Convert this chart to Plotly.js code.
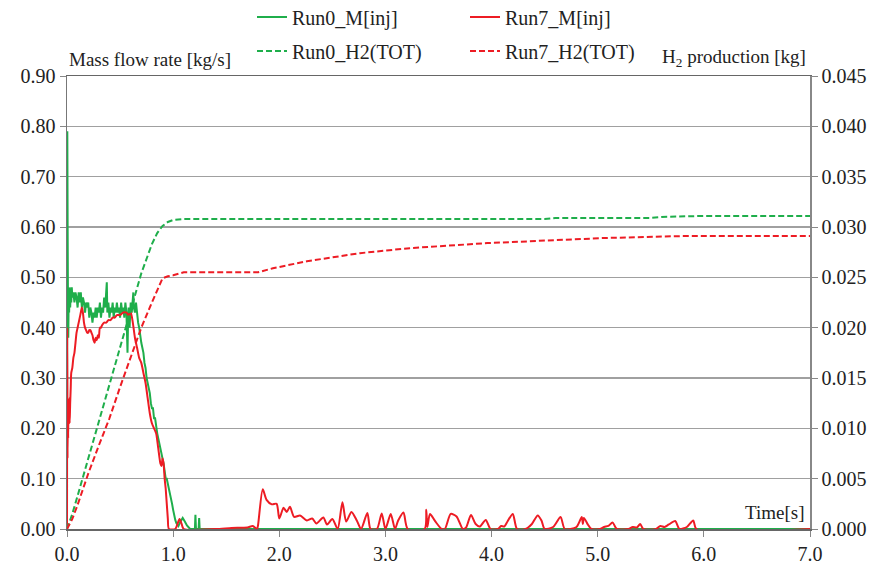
<!DOCTYPE html>
<html>
<head>
<meta charset="utf-8">
<script src="https://cdn.plot.ly/plotly-3.0.1.min.js"></script>
<style>html,body{margin:0;padding:0;background:#fff;}#chart{width:877px;height:564px;}</style>
</head>
<body>
<div id="chart"></div>
<script>
// Run0 injected mass flow rate [kg/s]
const run0_t = [0,0.003,0.006,0.009,0.012,0.016,0.02,0.025,0.03,0.035,0.04,0.045,0.05,0.06,0.07,0.08,0.09,0.10,0.11,0.12,0.13,0.14,0.15,0.16,0.17,0.18,0.19,0.20,0.21,0.22,0.23,0.24,0.25,0.26,0.27,0.28,0.29,0.30,0.31,0.32,0.33,0.34,0.35,0.36,0.37,0.375,0.38,0.39,0.40,0.41,0.42,0.43,0.44,0.45,0.46,0.47,0.48,0.49,0.50,0.51,0.52,0.53,0.54,0.55,0.56,0.565,0.57,0.575,0.58,0.59,0.60,0.61,0.62,0.625,0.63,0.64,0.65,0.66,0.67,0.68,0.69,0.70,0.71,0.72,0.73,0.74,0.75,0.76,0.77,0.78,0.79,0.80,0.81,0.82,0.83,0.84,0.85,0.86,0.87,0.88,0.89,0.90,0.91,0.92,0.93,0.94,0.95,0.96,0.97,0.98,0.99,1.00,1.01,1.02,1.03,1.05,1.07,1.09,1.11,1.13,1.16,1.20,1.205,1.21,1.215,1.24,1.245,1.25,2.0,3.0,4.0,5.0,6.0,7.0];
const run0_M = [0,0.79,0.60,0.45,0.38,0.46,0.43,0.48,0.44,0.47,0.45,0.48,0.46,0.47,0.45,0.47,0.46,0.44,0.47,0.45,0.47,0.44,0.46,0.45,0.43,0.45,0.44,0.45,0.42,0.44,0.43,0.41,0.43,0.42,0.44,0.42,0.44,0.43,0.45,0.42,0.44,0.43,0.46,0.44,0.47,0.49,0.43,0.45,0.42,0.44,0.43,0.45,0.42,0.44,0.43,0.45,0.43,0.44,0.42,0.45,0.43,0.44,0.42,0.45,0.43,0.38,0.35,0.41,0.44,0.40,0.45,0.43,0.46,0.47,0.44,0.43,0.45,0.42,0.41,0.40,0.38,0.37,0.36,0.35,0.33,0.32,0.30,0.29,0.28,0.27,0.25,0.24,0.24,0.22,0.22,0.20,0.19,0.18,0.17,0.16,0.155,0.14,0.13,0.115,0.10,0.10,0.09,0.08,0.075,0.06,0.05,0.038,0.025,0.018,0.012,0.006,0.015,0.022,0.015,0.007,0,0,0,0.028,0,0,0.022,0,0,0,0,0,0,0];

// Run7 injected mass flow rate [kg/s]
const run7_t = [0,0.002,0.005,0.008,0.011,0.014,0.017,0.02,0.025,0.03,0.035,0.04,0.05,0.06,0.07,0.08,0.09,0.10,0.11,0.12,0.13,0.14,0.15,0.16,0.17,0.18,0.19,0.20,0.21,0.22,0.23,0.24,0.25,0.26,0.27,0.28,0.29,0.30,0.31,0.32,0.33,0.35,0.37,0.39,0.41,0.43,0.45,0.47,0.50,0.53,0.56,0.58,0.60,0.62,0.64,0.66,0.68,0.70,0.72,0.74,0.76,0.78,0.80,0.82,0.84,0.86,0.88,0.89,0.90,0.91,0.92,0.93,0.95,0.96,1.02,1.06,1.08,1.10,1.40,1.55,1.70,1.75,1.79,1.80,1.844,1.88,1.93,1.975,2.0,2.04,2.07,2.10,2.14,2.195,2.26,2.31,2.35,2.415,2.45,2.50,2.55,2.595,2.63,2.68,2.73,2.77,2.83,2.86,2.92,2.965,3.0,3.05,3.09,3.12,3.17,3.21,3.37,3.385,3.395,3.42,3.47,3.53,3.56,3.615,3.67,3.73,3.76,3.806,3.85,3.89,3.945,3.99,4.06,4.09,4.12,4.15,4.2,4.24,4.32,4.38,4.435,4.47,4.5,4.58,4.65,4.69,4.80,4.85,4.86,4.87,4.91,4.94,5.02,5.06,5.10,5.14,5.18,5.29,5.33,5.37,5.40,5.43,5.55,5.59,5.63,5.67,5.73,5.77,5.84,5.90,5.93,7.0];
const run7_M = [0,0.40,0.14,0.25,0.18,0.25,0.21,0.26,0.21,0.25,0.28,0.31,0.32,0.34,0.35,0.37,0.39,0.40,0.41,0.42,0.43,0.44,0.43,0.41,0.40,0.395,0.39,0.39,0.395,0.395,0.39,0.385,0.375,0.37,0.38,0.375,0.385,0.38,0.40,0.40,0.405,0.41,0.41,0.415,0.415,0.42,0.42,0.425,0.425,0.43,0.43,0.425,0.43,0.41,0.38,0.36,0.34,0.33,0.31,0.29,0.26,0.23,0.21,0.20,0.19,0.16,0.13,0.125,0.14,0.13,0.10,0.08,0.02,0,0,0.02,0.01,0,0,0.002,0.003,0.006,0,0.008,0.079,0.058,0.049,0.050,0.021,0.042,0.034,0.044,0.024,0.027,0.017,0.021,0.011,0.023,0.009,0.020,0,0.053,0.015,0.034,0.017,0,0.032,0,0,0.031,0,0.030,0,0.017,0.033,0,0,0.038,0.004,0.030,0.015,0,0,0.030,0.025,0,0.003,0.028,0.010,0.005,0.018,0,0,0.006,0.005,0.015,0.030,0,0,0.010,0.027,0.017,0,0.004,0.024,0,0.004,0.024,0.010,0.022,0.008,0,0,0.004,0.006,0.013,0,0,0.004,0.003,0.010,0,0,0.006,0.004,0.009,0.016,0,0.004,0.017,0,0];

// Total H2 production [kg]
const h2_t0 = [0,0.05,0.1,0.2,0.3,0.4,0.5,0.6,0.7,0.8,0.85,0.9,0.95,1.0,1.1,1.2,2.0,3.0,4.0,4.5,4.6,5.5,5.6,6.0,7.0];
const run0_H2 = [0,0.0015,0.0033,0.0070,0.0107,0.0145,0.0182,0.0218,0.0254,0.0283,0.0294,0.0301,0.0305,0.0307,0.0308,0.0308,0.0308,0.0308,0.0308,0.0308,0.0309,0.0309,0.0310,0.0311,0.0311];
const h2_t7 = [0,0.05,0.1,0.2,0.3,0.4,0.5,0.6,0.7,0.8,0.9,0.95,1.0,1.1,1.2,1.8,1.94,2.26,2.76,3.23,3.96,4.43,5.05,5.8,7.0];
const run7_H2 = [0,0.0010,0.0024,0.0055,0.0083,0.0110,0.0141,0.0171,0.0200,0.0225,0.0249,0.0251,0.0252,0.0255,0.0255,0.0255,0.0259,0.0266,0.0274,0.0279,0.0284,0.0286,0.0289,0.0291,0.0291];

const xTicks = [0,1,2,3,4,5,6,7];

const GREEN = '#1fae4b', RED = '#ed1c24';
const FONT = 'Liberation Serif, Times New Roman, serif';

const traces = [
  {x: run0_t, y: run0_M, name: 'Run0_M[inj]', mode: 'lines', line: {color: GREEN, width: 2}, legend: 'legend'},
  {x: run7_t, y: run7_M, name: 'Run7_M[inj]', mode: 'lines', line: {color: RED, width: 2, shape: 'spline', smoothing: 0.7}, legend: 'legend'},
  {x: h2_t0, y: run0_H2, name: 'Run0_H2(TOT)', mode: 'lines', yaxis: 'y2', line: {color: GREEN, width: 2, dash: '6px,3px'}, legend: 'legend2'},
  {x: h2_t7, y: run7_H2, name: 'Run7_H2(TOT)', mode: 'lines', yaxis: 'y2', line: {color: RED, width: 2, dash: '6px,3px'}, legend: 'legend2'}
];

const legendCommon = {orientation: 'h', xanchor: 'left', yanchor: 'middle', font: {family: FONT, size: 20, color: '#222'}, bgcolor: 'rgba(0,0,0,0)', entrywidth: 168, entrywidthmode: 'pixels', itemwidth: 30, tracegroupgap: 0};

const layout = {
  width: 877, height: 564,
  margin: {l: 67, r: 67, t: 76, b: 35, autoexpand: false},
  paper_bgcolor: '#fff', plot_bgcolor: '#fff',
  font: {family: FONT, size: 20, color: '#222'},
  showlegend: true,
  legend: Object.assign({}, legendCommon, {x: 0.249, y: 1.13}),
  legend2: Object.assign({}, legendCommon, {x: 0.249, y: 1.055}),
  xaxis: {range: [0, 7], tickvals: xTicks, tickformat: '.1f', showgrid: false, zeroline: false,
          showline: true, linecolor: '#666', linewidth: 1.5, mirror: true,
          ticks: 'outside', ticklen: 6, tickcolor: '#888', tickfont: {family: FONT, size: 20, color: '#222'}},
  yaxis: {range: [0, 0.9], dtick: 0.1, tickformat: '.2f', showgrid: true, gridcolor: '#a0a0a0', gridwidth: 1.5,
          zeroline: false, showline: true, linecolor: '#777', linewidth: 1.5,
          ticks: 'outside', ticklen: 6, tickcolor: '#888', tickfont: {family: FONT, size: 20, color: '#222'}},
  yaxis2: {range: [0, 0.045], dtick: 0.005, tickformat: '.3f', overlaying: 'y', side: 'right', showgrid: false,
           zeroline: false, showline: true, linecolor: '#888', linewidth: 1.5,
           ticks: 'outside', ticklen: 6, tickcolor: '#888', tickfont: {family: FONT, size: 20, color: '#222'}},
  annotations: [
    {text: 'Mass flow rate [kg/s]', xref: 'paper', yref: 'paper', x: 0, y: 1.0, xanchor: 'left', yanchor: 'bottom', yshift: 4, showarrow: false, font: {family: FONT, size: 19, color: '#222'}},
    {text: 'H<sub>2</sub> production [kg]', xref: 'paper', yref: 'paper', x: 1, y: 1.0, xanchor: 'right', yanchor: 'bottom', yshift: 4, xshift: -2, showarrow: false, font: {family: FONT, size: 19, color: '#222'}},
    {text: 'Time[s]', xref: 'paper', yref: 'paper', x: 1, y: 0, xanchor: 'right', yanchor: 'bottom', yshift: 4, xshift: -4, showarrow: false, font: {family: FONT, size: 19, color: '#222'}}
  ]
};

Plotly.newPlot('chart', traces, layout, {displayModeBar: false, staticPlot: true});
</script>
</body>
</html>
